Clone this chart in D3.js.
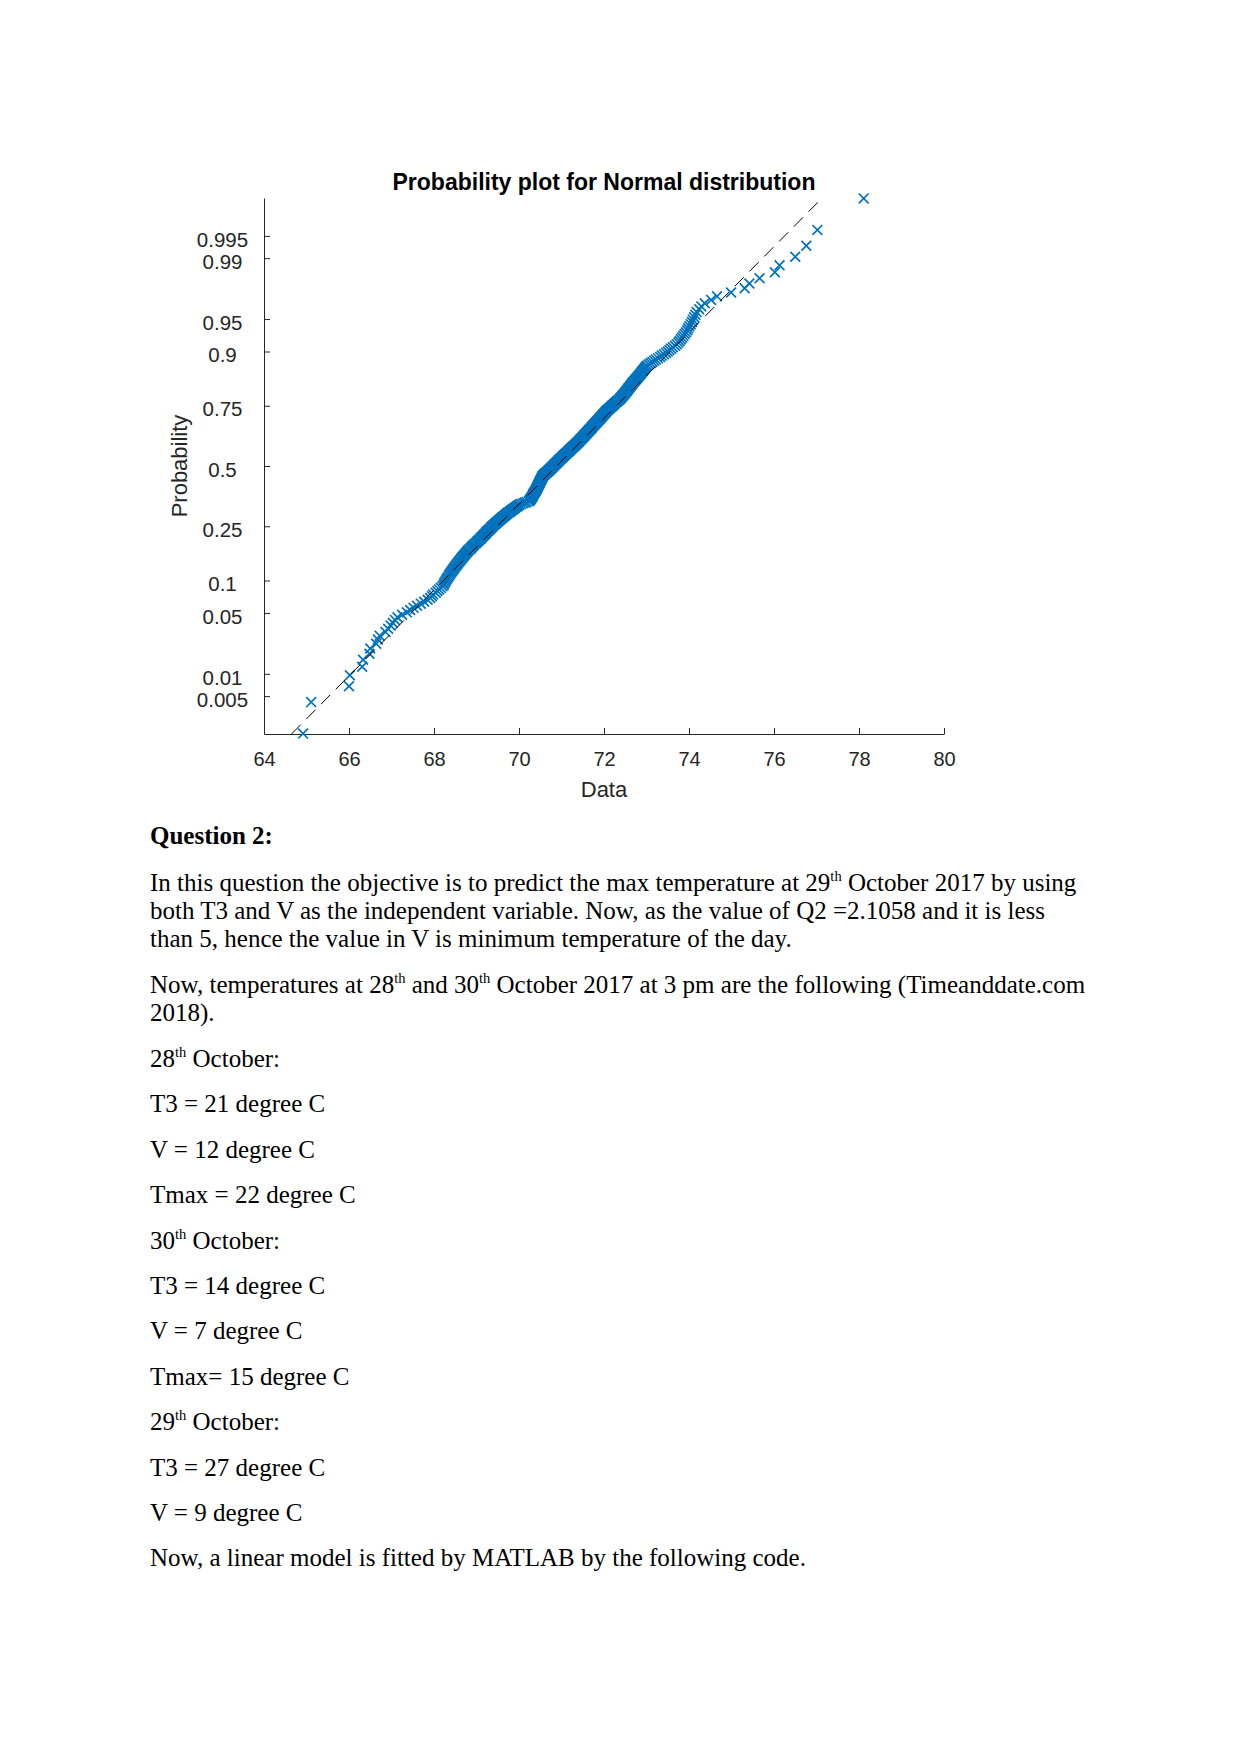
<!DOCTYPE html>
<html>
<head>
<meta charset="utf-8">
<script src="https://cdn.jsdelivr.net/npm/d3@7"></script>
<style>
  html, body { margin: 0; padding: 0; background: #fff; }
  svg { display: block; }
</style>
</head>
<body>
<script>
// ---------------- DATA ----------------
const sampleValues = [
  64.92, 65.11, 66.00, 66.02, 66.31, 66.33, 66.48, 66.50, 66.64, 66.68, 66.72, 66.86,
  66.92, 66.98, 67.03, 67.08, 67.14, 67.25, 67.36, 67.44, 67.52,
  67.60, 67.69, 67.77, 67.85, 67.91, 67.95, 67.98, 68.04, 68.08,
  68.12, 68.16, 68.20,
  68.23, 68.24, 68.26, 68.28, 68.30, 68.32, 68.34, 68.36, 68.38, 68.40, 68.42, 68.44,
  68.46, 68.48, 68.50, 68.52, 68.54, 68.56, 68.58, 68.60, 68.62, 68.64, 68.66, 68.68, 68.70, 68.72, 68.74, 68.76,
  68.78, 68.80, 68.82, 68.85, 68.87, 68.89, 68.91, 68.93, 68.95, 68.98, 69.00, 69.02, 69.04, 69.06,
  69.09, 69.10, 69.12, 69.14, 69.16, 69.18, 69.20, 69.22, 69.23, 69.25, 69.27, 69.29, 69.31, 69.33, 69.35, 69.36, 69.38,
  69.40, 69.42, 69.44, 69.46, 69.48, 69.50, 69.52, 69.54, 69.56, 69.58, 69.60, 69.62, 69.64, 69.66, 69.68, 69.70,
  69.72, 69.74, 69.77, 69.79, 69.81, 69.83, 69.86, 69.88, 69.90, 69.92, 69.95, 69.97, 69.99, 70.01,
  70.05, 70.10, 70.14, 70.18, 70.23,
  70.25, 70.26, 70.27, 70.28, 70.29, 70.30, 70.31, 70.32, 70.33, 70.33, 70.34, 70.35, 70.36, 70.37, 70.38, 70.39, 70.40, 70.40,
  70.41, 70.42, 70.43, 70.43, 70.44, 70.45, 70.45, 70.46, 70.47, 70.48, 70.48, 70.49, 70.50, 70.50, 70.51, 70.52, 70.53, 70.53, 70.54, 70.55, 70.55, 70.56,
  70.58, 70.59, 70.61, 70.62, 70.64, 70.66, 70.67, 70.69, 70.70, 70.72,
  70.73, 70.75, 70.76, 70.78, 70.79, 70.81, 70.82, 70.83, 70.85, 70.86, 70.88, 70.89, 70.91, 70.92, 70.94, 70.95,
  70.96, 70.98, 71.00, 71.01, 71.03, 71.04, 71.06, 71.07, 71.09, 71.10, 71.12, 71.14, 71.15, 71.17, 71.18, 71.20, 71.21, 71.23, 71.24, 71.26, 71.27, 71.29, 71.31, 71.32, 71.34, 71.35, 71.37,
  71.38, 71.40, 71.41, 71.43, 71.44, 71.45, 71.47, 71.48, 71.50, 71.51, 71.53, 71.54, 71.55, 71.57, 71.58, 71.60, 71.61, 71.62, 71.64, 71.65, 71.67, 71.68, 71.70, 71.71, 71.72, 71.74,
  71.75, 71.77, 71.78, 71.80, 71.81, 71.83, 71.84, 71.86, 71.87, 71.89, 71.90, 71.92, 71.93, 71.95, 71.96, 71.98, 71.99, 72.01, 72.02, 72.04, 72.05,
  72.07, 72.09, 72.11, 72.13, 72.15, 72.17, 72.19, 72.21, 72.23, 72.25, 72.27, 72.29, 72.31, 72.33, 72.36,
  72.38, 72.39, 72.41, 72.43, 72.44, 72.46, 72.48, 72.49, 72.51, 72.53, 72.54, 72.56, 72.57, 72.59, 72.61, 72.62, 72.64, 72.66, 72.67,
  72.69, 72.71, 72.73, 72.75, 72.77, 72.79, 72.81, 72.83, 72.85, 72.87, 72.89, 72.91, 72.93, 72.95, 72.97, 72.99,
  73.02, 73.06, 73.10, 73.14, 73.18, 73.22,
  73.27, 73.32, 73.36, 73.41, 73.46,
  73.50, 73.54, 73.58, 73.62, 73.67, 73.71,
  73.75, 73.78, 73.81, 73.84, 73.87, 73.90,
  73.93, 73.96, 73.98, 74.01,
  74.04, 74.07, 74.09, 74.12, 74.15,
  74.18, 74.24, 74.29,
  74.37, 74.52, 74.66, 74.99, 75.31, 75.42, 75.66, 76.02, 76.13, 76.50, 76.76, 77.02, 78.11
];

// Reference (fitted) normal line: [mean, standard deviation]
const referenceFit = [70.89, 2.081];

// Axis ticks
const probTicks      = [0.005, 0.01, 0.05, 0.1, 0.25, 0.5, 0.75, 0.9, 0.95, 0.99, 0.995];
const probTickLabels = ["0.005", "0.01", "0.05", "0.1", "0.25", "0.5", "0.75", "0.9", "0.95", "0.99", "0.995"];
const xTicks         = [64, 66, 68, 70, 72, 74, 76, 78, 80];
const xDomain        = [64, 80];
const zDomain        = [-3, 3];

const chartTitle = "Probability plot for Normal distribution";
const xAxisLabel = "Data";
const yAxisLabel = "Probability";

// Body text lines; ^{..} marks superscript
const bodyLines = [
  { text: "Question 2:", bold: true },
  { text: "In this question the objective is to predict the max temperature at 29^{th} October 2017 by using" },
  { text: "both T3 and V as the independent variable. Now, as the value of Q2 =2.1058 and it is less" },
  { text: "than 5, hence the value in V is minimum temperature of the day." },
  { text: "Now, temperatures at 28^{th} and 30^{th} October 2017 at 3 pm are the following (Timeanddate.com" },
  { text: "2018)." },
  { text: "28^{th} October:" },
  { text: "T3 = 21 degree C" },
  { text: "V = 12 degree C" },
  { text: "Tmax = 22 degree C" },
  { text: "30^{th} October:" },
  { text: "T3 = 14 degree C" },
  { text: "V = 7 degree C" },
  { text: "Tmax= 15 degree C" },
  { text: "29^{th} October:" },
  { text: "T3 = 27 degree C" },
  { text: "V = 9 degree C" },
  { text: "Now, a linear model is fitted by MATLAB by the following code." }
];
const bodyBaselines = [844.3, 890.7, 918.6, 946.6, 993.0, 1021.0, 1067.0, 1112.4, 1157.8, 1203.2,
  1248.6, 1294.0, 1339.4, 1384.8, 1430.2, 1475.6, 1521.0, 1566.4];

// ---------------- HELPERS ----------------
function probit(p) {
  const a = [-3.969683028665376e+01, 2.209460984245205e+02, -2.759285104469687e+02, 1.383577518672690e+02, -3.066479806614716e+01, 2.506628277459239e+00];
  const b = [-5.447609879822406e+01, 1.615858368580409e+02, -1.556989798598866e+02, 6.680131188771810e+01, -1.328068155288572e+01];
  const c = [-7.784894002430293e-03, -3.223964580411365e-01, -2.400758277161838e+00, -2.549671475484362e+00, 4.374664141464968e+00, 2.938163982698783e+00];
  const d = [7.784695709041462e-03, 3.224671290700398e-01, 2.445134137142996e+00, 3.754408661907416e+00];
  const pl = 0.02425, ph = 1 - pl;
  let q, r;
  if (p < pl) {
    q = Math.sqrt(-2 * Math.log(p));
    return (((((c[0]*q+c[1])*q+c[2])*q+c[3])*q+c[4])*q+c[5]) / ((((d[0]*q+d[1])*q+d[2])*q+d[3])*q+1);
  }
  if (p > ph) {
    q = Math.sqrt(-2 * Math.log(1 - p));
    return -(((((c[0]*q+c[1])*q+c[2])*q+c[3])*q+c[4])*q+c[5]) / ((((d[0]*q+d[1])*q+d[2])*q+d[3])*q+1);
  }
  q = p - 0.5; r = q * q;
  return (((((a[0]*r+a[1])*r+a[2])*r+a[3])*r+a[4])*r+a[5])*q / (((((b[0]*r+b[1])*r+b[2])*r+b[3])*r+b[4])*r+1);
}

// ---------------- DRAW ----------------
const W = 1241, H = 1754;
const plot = { left: 264, right: 944, top: 198, bottom: 734 };
const axisColor = "#262626";
const sans = "'Liberation Sans', Arial, Helvetica, sans-serif";
const serif = "'Liberation Serif', 'Times New Roman', Times, serif";

const svg = d3.select("body").append("svg")
  .attr("width", W).attr("height", H)
  .attr("viewBox", `0 0 ${W} ${H}`);
svg.append("rect").attr("width", W).attr("height", H).attr("fill", "#fff");

const x = d3.scaleLinear().domain(xDomain).range([plot.left, plot.right]);
const y = d3.scaleLinear().domain(zDomain).range([plot.bottom, plot.top]);

// X axis
const xAxis = d3.axisBottom(x)
  .tickValues(xTicks)
  .tickFormat(d3.format("d"))
  .tickSizeInner(-6).tickSizeOuter(0)
  .tickPadding(17.5);
const gx = svg.append("g").attr("transform", `translate(0,${plot.bottom})`).call(xAxis);
gx.select(".domain").attr("stroke", axisColor);
gx.selectAll(".tick line").attr("stroke", axisColor);
gx.selectAll(".tick text").attr("fill", axisColor)
  .style("font-family", sans).style("font-size", "20px");

// Y axis (normal probability scale)
const yAxis = d3.axisLeft(y)
  .tickValues(probTicks.map(probit))
  .tickFormat((d, i) => probTickLabels[i])
  .tickSizeInner(-6).tickSizeOuter(0);
const gy = svg.append("g").attr("transform", `translate(${plot.left},0)`).call(yAxis);
gy.select(".domain").attr("stroke", axisColor);
gy.selectAll(".tick line").attr("stroke", axisColor);
gy.selectAll(".tick text").attr("fill", axisColor)
  .attr("text-anchor", "middle")
  .attr("x", -41.5)
  .attr("dy", "0.5em")
  .style("font-family", sans).style("font-size", "20.5px");

// Data markers ('x')
const n = sampleValues.length;
const pts = sampleValues.map((v, i) => ({ v, z: probit((i + 0.5) / n) }));
const ms = 4.9;
svg.append("g").selectAll("path.pt").data(pts).join("path")
  .attr("class", "pt")
  .attr("transform", d => `translate(${x(d.v)},${y(d.z)})`)
  .attr("d", `M${-ms},${-ms}L${ms},${ms}M${-ms},${ms}L${ms},${-ms}`)
  .attr("fill", "none")
  .attr("stroke", "#0072BD")
  .attr("stroke-width", 1.7);

// Reference line (dashed)
const [mu, sigma] = referenceFit;
svg.append("line")
  .attr("x1", x(mu + sigma * zDomain[0])).attr("y1", y(zDomain[0]))
  .attr("x2", x(mu + sigma * zDomain[1])).attr("y2", y(zDomain[1]))
  .attr("stroke", "#000").attr("stroke-width", 1)
  .attr("stroke-dasharray", "13,8");

// Title & labels
svg.append("text")
  .attr("x", (plot.left + plot.right) / 2).attr("y", 190)
  .attr("text-anchor", "middle")
  .style("font-family", sans).style("font-size", "23px").style("font-weight", "bold")
  .attr("fill", "#000")
  .text(chartTitle);

svg.append("text")
  .attr("x", (plot.left + plot.right) / 2).attr("y", 796.5)
  .attr("text-anchor", "middle")
  .style("font-family", sans).style("font-size", "22px")
  .attr("fill", axisColor)
  .text(xAxisLabel);

svg.append("text")
  .attr("transform", `translate(186.5,${(plot.top + plot.bottom) / 2}) rotate(-90)`)
  .attr("text-anchor", "middle")
  .style("font-family", sans).style("font-size", "22px")
  .attr("fill", axisColor)
  .text(yAxisLabel);

// Body text
const body = svg.append("g").style("font-family", serif).style("font-size", "25px").attr("fill", "#000");
bodyLines.forEach((line, i) => {
  const t = body.append("text").attr("x", 150).attr("y", bodyBaselines[i])
    .style("font-weight", line.bold ? "bold" : "normal");
  const parts = line.text.split(/(\^\{[^}]*\})/).filter(s => s.length);
  let raised = false;
  parts.forEach(part => {
    const m = part.match(/^\^\{([^}]*)\}$/);
    if (m) {
      t.append("tspan").attr("dy", -10).style("font-size", "14.5px").text(m[1]);
      raised = true;
    } else {
      const ts = t.append("tspan").text(part);
      if (raised) { ts.attr("dy", 10); raised = false; }
    }
  });
});
</script>
</body>
</html>
